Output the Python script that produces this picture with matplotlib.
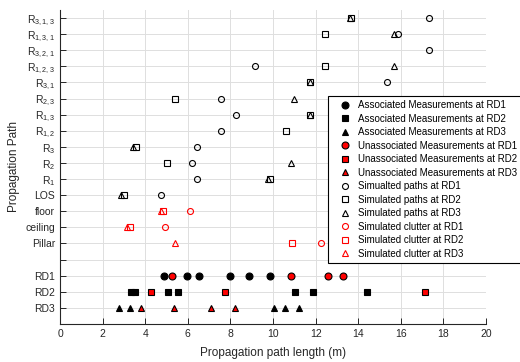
import numpy as np
import matplotlib
matplotlib.use('Agg')
import matplotlib.pyplot as plt

plt.rcParams['font.family'] = ['Liberation Sans', 'DejaVu Sans']
plt.rcParams['mathtext.fontset'] = 'custom'
plt.rcParams['mathtext.rm'] = 'Liberation Sans'
plt.rcParams['mathtext.it'] = 'Liberation Sans'
plt.rcParams['mathtext.default'] = 'regular'

# y categories, bottom to top
paths = ['RD3', 'RD2', 'RD1', '', 'Pillar', 'ceiling', 'floor', 'LOS',
         'R$_1$', 'R$_2$', 'R$_3$', 'R$_{1,2}$', 'R$_{1,3}$', 'R$_{2,3}$',
         'R$_{3,1}$', 'R$_{1,2,3}$', 'R$_{3,2,1}$', 'R$_{1,3,1}$', 'R$_{3,1,3}$']

# measurements (m)
assoc_rd1 = [4.88, 5.95, 6.53, 7.98, 8.86, 9.86]
assoc_rd2 = [3.33, 3.52, 5.06, 5.55, 11.03, 11.88, 14.40]
assoc_rd3 = [2.77, 3.29, 10.05, 10.56, 11.22]
unassoc_rd1 = [5.24, 10.86, 12.60, 13.27]
unassoc_rd2 = [4.26, 7.76, 17.12]
unassoc_rd3 = [3.79, 5.35, 7.07, 8.22]

# simulated paths: path name -> length
sim_rd1_paths = ['R$_{3,1,3}$', 'R$_{1,3,1}$', 'R$_{3,2,1}$', 'R$_{1,2,3}$', 'R$_{3,1}$',
                 'R$_{2,3}$', 'R$_{1,3}$', 'R$_{1,2}$', 'R$_3$', 'R$_2$', 'R$_1$', 'LOS']
sim_rd1_len = [17.32, 15.85, 17.32, 9.15, 15.34, 7.54, 8.25, 7.54, 6.42, 6.20, 6.42, 4.74]
sim_rd2_paths = ['R$_{3,1,3}$', 'R$_{1,3,1}$', 'R$_{1,2,3}$', 'R$_{3,1}$', 'R$_{2,3}$',
                 'R$_{1,3}$', 'R$_{1,2}$', 'R$_3$', 'R$_2$', 'R$_1$', 'LOS']
sim_rd2_len = [13.68, 12.44, 12.44, 11.76, 5.40, 11.76, 10.61, 3.58, 5.01, 9.86, 3.00]
sim_rd3_paths = ['R$_{3,1,3}$', 'R$_{1,3,1}$', 'R$_{1,2,3}$', 'R$_{3,1}$', 'R$_{2,3}$',
                 'R$_{1,3}$', 'R$_3$', 'R$_2$', 'R$_1$', 'LOS']
sim_rd3_len = [13.62, 15.70, 15.70, 11.72, 10.99, 11.72, 3.45, 10.85, 9.78, 2.85]

# simulated clutter
clutter = ['floor', 'ceiling', 'Pillar']
clut_rd1 = [6.10, 4.93, 12.25]
clut_rd2 = [4.82, 3.30, 10.89]
clut_rd3 = [4.72, 3.15, 5.40]

ypos = {p: i + 1 for i, p in enumerate(paths)}

fig = plt.figure(figsize=(5.2, 3.62), dpi=100)
ax = fig.add_axes([60/520, 38/362, 426/520, 314/362])

ms_f = 5.0
ew = 0.8
ax.plot(assoc_rd1, [ypos['RD1']]*len(assoc_rd1), 'o', ms=ms_f, mfc='k', mec='k', mew=ew,
        label='Associated Measurements at RD1')
ax.plot(assoc_rd2, [ypos['RD2']]*len(assoc_rd2), 's', ms=ms_f*0.9, mfc='k', mec='k', mew=ew,
        label='Associated Measurements at RD2')
ax.plot(assoc_rd3, [ypos['RD3']]*len(assoc_rd3), '^', ms=ms_f, mfc='k', mec='k', mew=ew,
        label='Associated Measurements at RD3')
ax.plot(unassoc_rd1, [ypos['RD1']]*len(unassoc_rd1), 'o', ms=ms_f, mfc='r', mec='k', mew=ew,
        label='Unassociated Measurements at RD1')
ax.plot(unassoc_rd2, [ypos['RD2']]*len(unassoc_rd2), 's', ms=ms_f*0.9, mfc='r', mec='k', mew=ew,
        label='Unassociated Measurements at RD2')
ax.plot(unassoc_rd3, [ypos['RD3']]*len(unassoc_rd3), '^', ms=ms_f, mfc='r', mec='k', mew=ew,
        label='Unassociated Measurements at RD3')

ax.plot(sim_rd1_len, [ypos[p] for p in sim_rd1_paths], 'o', ms=4.3, mfc='none', mec='k', mew=ew,
        label='Simualted paths at RD1')
ax.plot(sim_rd2_len, [ypos[p] for p in sim_rd2_paths], 's', ms=3.7, mfc='none', mec='k', mew=ew,
        label='Simulated paths at RD2')
ax.plot(sim_rd3_len, [ypos[p] for p in sim_rd3_paths], '^', ms=4.6, mfc='none', mec='k', mew=ew,
        label='Simulated paths at RD3')
ax.plot(clut_rd1, [ypos[p] for p in clutter], 'o', ms=4.3, mfc='none', mec='r', mew=ew,
        label='Simulated clutter at RD1')
ax.plot(clut_rd2, [ypos[p] for p in clutter], 's', ms=3.7, mfc='none', mec='r', mew=ew,
        label='Simulated clutter at RD2')
ax.plot(clut_rd3, [ypos[p] for p in clutter], '^', ms=4.6, mfc='none', mec='r', mew=ew,
        label='Simulated clutter at RD3')

ax.set_xlim(0, 20)
ax.set_ylim(0, 19.5)
ax.set_xticks(np.arange(0, 21, 2))
ax.set_yticks(list(ypos.values()))
ax.set_yticklabels(paths)
ax.grid(True, color='#dedede', linewidth=0.7)
ax.set_axisbelow(True)
for s in ['top', 'right']:
    ax.spines[s].set_visible(False)
for s in ['left', 'bottom']:
    ax.spines[s].set_color('#262626')
    ax.spines[s].set_linewidth(0.8)
ax.tick_params(direction='in', length=4, width=0.7, colors='#262626', labelsize=7.5)
ax.set_xlabel('Propagation path length (m)', fontsize=8.5, color='#262626', labelpad=6)
ax.set_ylabel('Propagation Path', fontsize=8.5, color='#262626')

leg = ax.legend(loc='upper left', bbox_to_anchor=(328/520, 1 - 95.7/362),
                bbox_transform=fig.transFigure, fontsize=7.0, frameon=True,
                fancybox=False, framealpha=1, edgecolor='k', borderpad=0.45,
                handlelength=2.6, handletextpad=0.0, labelspacing=0.36,
                borderaxespad=0)
leg.get_frame().set_linewidth(0.8)

fig.savefig('out.png', dpi=100)
